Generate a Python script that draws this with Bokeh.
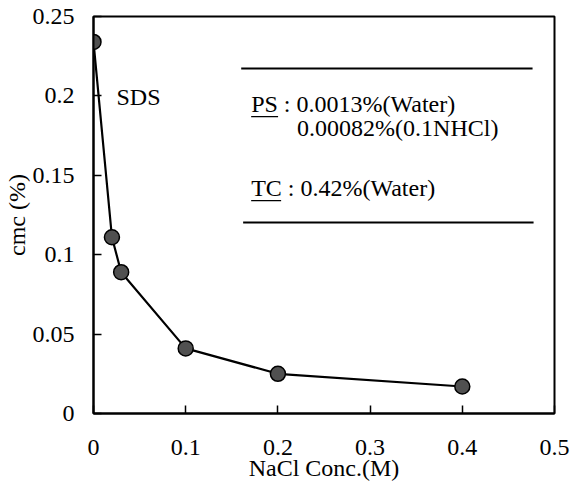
from bokeh.plotting import figure
from bokeh.models import Range1d, FixedTicker, Label, ColumnDataSource
from bokeh.embed import file_html
from bokeh.resources import INLINE

# cmc of SDS versus added NaCl concentration
nacl_conc = [0.0, 0.02, 0.03, 0.1, 0.2, 0.4]
cmc_sds = [0.234, 0.111, 0.089, 0.041, 0.025, 0.017]

x_ticks = [0.0, 0.1, 0.2, 0.3, 0.4, 0.5]
x_tick_labels = ["0", "0.1", "0.2", "0.3", "0.4", "0.5"]
y_ticks = [0.0, 0.05, 0.1, 0.15, 0.2, 0.25]
y_tick_labels = ["0", "0.05", "0.1", "0.15", "0.2", "0.25"]

FONT = "Liberation Serif"
FS = "24px"

p = figure(width=570, height=484, output_backend="svg", toolbar_location=None,
           x_range=Range1d(0, 0.5), y_range=Range1d(0, 0.25),
           min_border_left=92, min_border_right=16, min_border_top=16,
           min_border_bottom=71)
p.background_fill_color = "white"
p.border_fill_color = "white"
p.grid.visible = False
p.outline_line_color = "black"
p.outline_line_width = 2

for ax in (p.xaxis[0], p.yaxis[0]):
    ax.axis_line_width = 2
    ax.axis_line_color = "black"
    ax.major_tick_in = 8
    ax.major_tick_out = 0
    ax.major_tick_line_width = 1.5
    ax.minor_tick_line_color = None
    ax.major_label_text_font = FONT
    ax.major_label_text_font_size = FS
    ax.major_label_text_color = "black"
    ax.axis_label_text_font = FONT
    ax.axis_label_text_font_size = FS
    ax.axis_label_text_font_style = "normal"
    ax.axis_label_text_color = "black"

p.xaxis.ticker = FixedTicker(ticks=x_ticks)
p.xaxis.major_label_overrides = dict(zip(x_ticks, x_tick_labels))
p.xaxis.major_label_standoff = 26
p.xaxis.axis_label = "NaCl Conc.(M)"
p.xaxis.axis_label_standoff = -3

p.yaxis.ticker = FixedTicker(ticks=y_ticks)
p.yaxis.major_label_overrides = dict(zip(y_ticks, y_tick_labels))
p.yaxis.major_label_standoff = 19
p.yaxis.axis_label = "cmc (%)"
p.yaxis.axis_label_standoff = 0

src = ColumnDataSource(dict(x=nacl_conc, y=cmc_sds))
p.line("x", "y", source=src, line_color="black", line_width=2.2)
p.scatter("x", "y", source=src, size=15, fill_color="#505050",
          line_color="black", line_width=1.5)

def add_text(x, y, txt):
    p.add_layout(Label(x=x, y=y, text=txt, text_font=FONT, text_font_size=FS,
                       text_color="black", text_baseline="middle",
                       text_align="left"))

add_text(0.0249, 0.199, "SDS")
add_text(0.171, 0.1946, "PS : 0.0013%(Water)")
add_text(0.2208, 0.1795, "0.00082%(0.1NHCl)")
add_text(0.171, 0.1417, "TC : 0.42%(Water)")

# underlines for the PS / TC labels and the rules framing the note
p.segment(x0=[0.171, 0.171], y0=[0.1870, 0.1340], x1=[0.2002, 0.2035],
          y1=[0.1870, 0.1340], line_color="black", line_width=1.3)
p.segment(x0=[0.1602, 0.1623], y0=[0.2173, 0.1203], x1=[0.4762, 0.4773],
          y1=[0.2173, 0.1203], line_color="black", line_width=2)

open("out.html", "w").write(file_html(p, INLINE))
